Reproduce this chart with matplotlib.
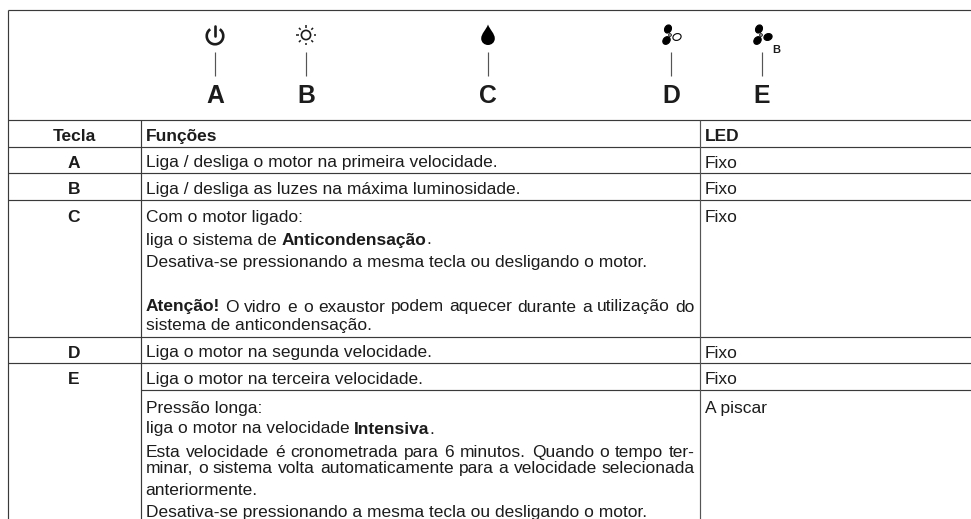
import matplotlib
matplotlib.use("Agg")
import matplotlib.pyplot as plt
from matplotlib.patches import Circle, Ellipse, Arc, PathPatch
from matplotlib.path import Path
import numpy as np

plt.rcParams['font.family'] = ['Liberation Sans', 'DejaVu Sans']

W, H = 971, 519
INK = '#1c1c1c'
keys = ['A', 'B', 'C', 'D', 'E']
key_x = [215, 306, 488, 671, 762]
header = ['Tecla', 'Funções', 'LED']
rows = [
    ('A', [[('Liga / desliga o motor na primeira velocidade.', False)]], 'Fixo'),
    ('B', [[('Liga / desliga as luzes na máxima luminosidade.', False)]], 'Fixo'),
    ('C', [[('Com o motor ligado:', False)],
           [('liga o sistema de ', False), ('Anticondensação', True), ('.', False)],
           [('Desativa-se pressionando a mesma tecla ou desligando o motor.', False)],
           [],
           [('Atenção!', True), (' O vidro e o exaustor podem aquecer durante a utilização do', False)],
           [('sistema de anticondensação.', False)]], 'Fixo'),
    ('D', [[('Liga o motor na segunda velocidade.', False)]], 'Fixo'),
    ('E', [[('Liga o motor na terceira velocidade.', False)]], 'Fixo'),
    ('', [[('Pressão longa:', False)],
          [('liga o motor na velocidade ', False), ('Intensiva', True), ('.', False)],
          [('Esta velocidade é cronometrada para 6 minutos. Quando o tempo ter-', False)],
          [('minar, o sistema volta automaticamente para a velocidade selecionada', False)],
          [('anteriormente.', False)],
          [('Desativa-se pressionando a mesma tecla ou desligando o motor.', False)]], 'A piscar'),
]
row_baselines = [
    [167.5], [194.3],
    [222, 244.5, 266.7, 289, 311.5, 330],
    [357.5], [384],
    [412.5, 433.5, 457, 473, 495, 516.5],
]
justified = {'Atenção!', 'Esta velocidade é cronometrada para 6 minutos. Quando o tempo ter-',
             'minar, o sistema volta automaticamente para a velocidade selecionada'}
h_lines = [10, 119.7, 146.7, 173.3, 200, 336.5, 363, 390]
col_x = [8, 140.7, 700]

fig = plt.figure(figsize=(W / 100, H / 100), dpi=100)
ax = fig.add_axes([0, 0, 1, 1])
ax.set_xlim(0, W)
ax.set_ylim(H, 0)
ax.axis('off')

FS = 12.5
TEXT_X = 145.5
RIGHT_X = 695
renderer = fig.canvas.get_renderer()


def width(s, fp):
    bar = renderer.get_text_width_height_descent('|', fp, False)[0]
    return renderer.get_text_width_height_descent(s + '|', fp, False)[0] - bar


def runs(x, y, parts, fs=FS):
    fps = []
    for s, bold in parts:
        t = ax.text(0, 0, '', fontsize=fs, fontweight='bold' if bold else 'normal')
        fps.append(t.get_fontproperties())
        t.remove()
    if parts[0][0] in justified:
        total = sum(width(s, fp) for (s, _), fp in zip(parts, fps))
        n_spaces = sum(s.count(' ') for s, _ in parts)
        extra = (RIGHT_X - x - total) / n_spaces
        for (s, bold), fp in zip(parts, fps):
            chunks = s.split(' ')
            for i, word in enumerate(chunks):
                if word:
                    ax.text(x, y, word, fontproperties=fp, color=INK, va='baseline', ha='left')
                    x += width(word, fp)
                if i < len(chunks) - 1:
                    x += width(' ', fp) + extra
    else:
        for (s, bold), fp in zip(parts, fps):
            ax.text(x, y, s, fontproperties=fp, color=INK, va='baseline', ha='left')
            x += width(s, fp)


LINE = '#3a3a3a'
LW = 0.85
for y in h_lines:
    x0 = col_x[1] if y == h_lines[-1] else col_x[0]
    ax.plot([x0, W], [y, y], color=LINE, lw=LW, solid_capstyle='butt')
ax.plot([col_x[0]] * 2, [h_lines[0], H], color=LINE, lw=LW, solid_capstyle='butt')
ax.plot([col_x[1]] * 2, [h_lines[1], H], color=LINE, lw=LW, solid_capstyle='butt')
ax.plot([col_x[2]] * 2, [h_lines[1], H], color='#555555', lw=LW, solid_capstyle='butt')

ax.text(74, 141, header[0], fontsize=FS, fontweight='bold', ha='center', va='baseline', color=INK)
ax.text(TEXT_X, 141, header[1], fontsize=FS, fontweight='bold', ha='left', va='baseline', color=INK)
ax.text(705, 141, header[2], fontsize=FS, fontweight='bold', ha='left', va='baseline', color=INK)

for (key, lines, led), bl in zip(rows, row_baselines):
    if key:
        ax.text(74, bl[0], key, fontsize=FS, fontweight='bold', ha='center', va='baseline', color=INK)
    ax.text(705, bl[0], led, fontsize=FS, ha='left', va='baseline', color=INK)
    for parts, y in zip(lines, bl):
        if parts:
            runs(TEXT_X, y, parts)

for k, x in zip(keys, key_x):
    ax.plot([x, x], [52, 76], color='#555555', lw=0.85, solid_capstyle='butt')
    ax.text(x, 103, k, fontsize=17.8, fontweight='bold', ha='center', va='baseline', color=INK)

# power icon
cx, cy = key_x[0], 36
ax.add_patch(Arc((cx, cy), 16.5, 16.5, theta1=-55, theta2=235, color=INK, lw=1.9))
ax.plot([cx, cx], [26, 36], color=INK, lw=1.9, solid_capstyle='round')

# sun icon
cx, cy = key_x[1], 35
ax.add_patch(Circle((cx, cy), 4.6, fill=False, ec=INK, lw=1.2))
for a in np.arange(0, 360, 45):
    c, s = np.cos(np.radians(a)), np.sin(np.radians(a))
    ax.plot([cx + 7.5 * c, cx + 10 * c], [cy + 7.5 * s, cy + 10 * s], color=INK, lw=1.1,
            solid_capstyle='butt')

# drop icon
cx, cy = key_x[2], 35
verts = [(cx, cy - 10.5), (cx + 2, cy - 5), (cx + 6.8, cy - 1.5), (cx + 6.8, cy + 3.5),
         (cx + 6.8, cy + 7.5), (cx + 3.5, cy + 10), (cx, cy + 10),
         (cx - 3.5, cy + 10), (cx - 6.8, cy + 7.5), (cx - 6.8, cy + 3.5),
         (cx - 6.8, cy - 1.5), (cx - 2, cy - 5), (cx, cy - 10.5)]
codes = [Path.MOVETO] + [Path.CURVE4] * 12
ax.add_patch(PathPatch(Path(verts, codes), fc='black', ec='none'))


def fan(cx, cy, hollow_right):
    blades = [(-2.0, -6.0, 25), (-3.5, 5.5, 40), (7.0, 2.0, 70)]
    for i, (dx, dy, ang) in enumerate(blades):
        hollow = hollow_right and i == 2
        ax.add_patch(Ellipse((cx + dx, cy + dy), 6.6, 8.4, angle=ang,
                             fc='white' if hollow else 'black', ec='black', lw=0.8))
    ax.add_patch(Circle((cx, cy), 1.3, fc='white', ec='black', lw=0.7))


fan(670, 35, True)
fan(761, 35, False)
ax.text(776.7, 53, 'B', fontsize=8, fontweight='bold', ha='center', va='baseline', color=INK)

fig.savefig('out.png', dpi=100)
